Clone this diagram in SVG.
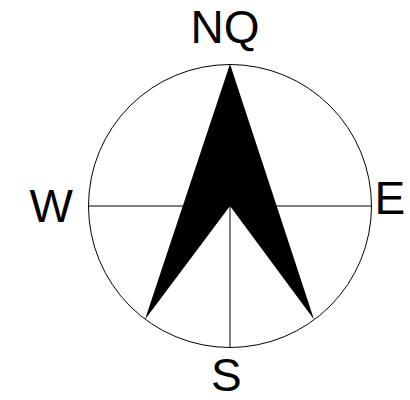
<svg xmlns="http://www.w3.org/2000/svg" width="410" height="400" viewBox="0 0 410 400">
<style>
.l{font-family:"Liberation Sans",Arial,sans-serif;font-size:46px;fill:#000}
.c{fill:none;stroke:#000;stroke-width:1}
</style>
<rect width="410" height="400" fill="#fff"/>
<g id="connectors">
<circle class="c" cx="230" cy="206" r="141.5"/>
<line class="c" x1="88.5" y1="206" x2="371.5" y2="206"/>
<line class="c" x1="230" y1="206" x2="230" y2="347.5"/>
</g>
<g id="arrow"><polygon points="230,64 314,319.5 230,206 145,319.5" fill="#000"/></g>
<g id="n"><text class="l" x="190.5" y="43">NQ</text></g>
<g id="w"><text class="l" x="29.5" y="222">W</text></g>
<g id="e"><text class="l" x="374.5" y="214">E</text></g>
<g id="s"><text class="l" x="211" y="391">S</text></g>
</svg>
